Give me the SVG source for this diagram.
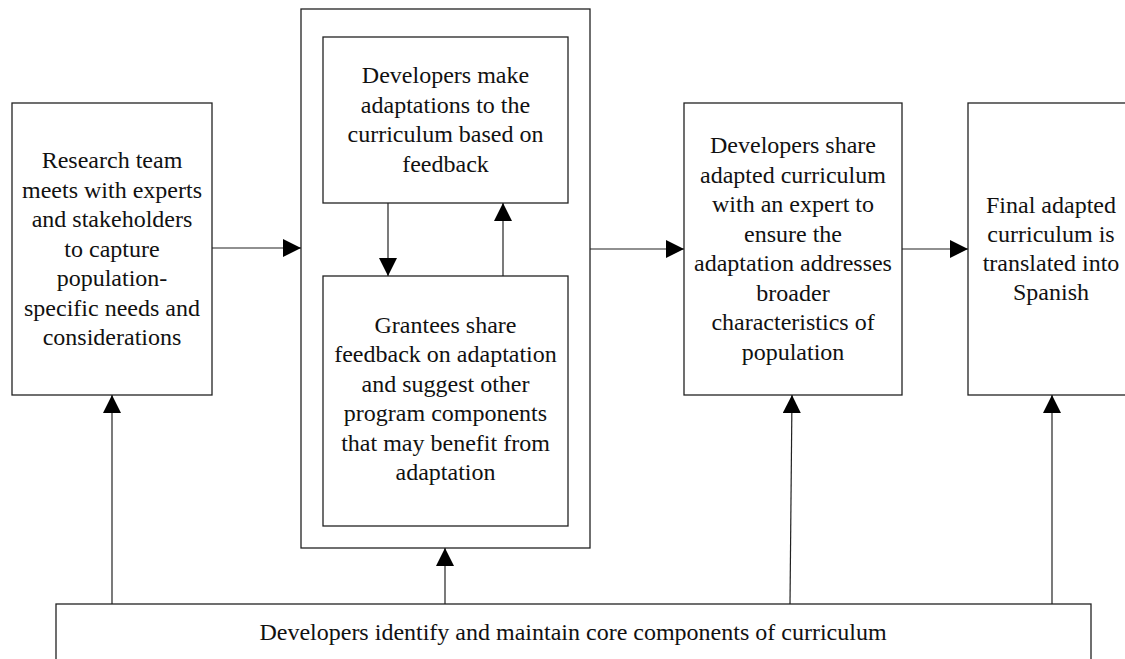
<svg xmlns="http://www.w3.org/2000/svg" width="1125" height="659" viewBox="0 0 1125 659">
<style>
.box{fill:#fff;stroke:#222;stroke-width:1.3}
.ln{fill:none;stroke:#222;stroke-width:1.2}
.t{font-family:'Liberation Serif',serif;font-size:24px;fill:#111;text-anchor:middle}
</style>
<defs>
<marker id="ah" viewBox="0 0 18 18" refX="18" refY="9" markerWidth="18" markerHeight="18" markerUnits="userSpaceOnUse" orient="auto">
<path d="M0,0 L18,9 L0,18 Z" fill="#000"/>
</marker>
</defs>
<rect width="1125" height="659" fill="#fff"/>
<g id="n1" class="t" font-family="Liberation Serif, serif">
<rect class="box" x="12" y="103" width="200" height="292"/>
<text x="112" y="168">Research team</text>
<text x="112" y="197.5">meets with experts</text>
<text x="112" y="227">and stakeholders</text>
<text x="112" y="256.5">to capture</text>
<text x="112" y="286">population-</text>
<text x="112" y="315.5">specific needs and</text>
<text x="112" y="345">considerations</text>
</g>
<g id="n2">
<rect class="box" x="301" y="9" width="289" height="539"/>
</g>
<g id="n2a" class="t" font-family="Liberation Serif, serif">
<rect class="box" x="323" y="37" width="245" height="166"/>
<text x="445.5" y="83">Developers make</text>
<text x="445.5" y="112.7">adaptations to the</text>
<text x="445.5" y="142.3">curriculum based on</text>
<text x="445.5" y="172">feedback</text>
</g>
<g id="n2b" class="t" font-family="Liberation Serif, serif">
<rect class="box" x="323" y="276" width="245" height="250"/>
<text x="445.5" y="333">Grantees share</text>
<text x="445.5" y="362.4">feedback on adaptation</text>
<text x="445.5" y="391.8">and suggest other</text>
<text x="445.5" y="421.2">program components</text>
<text x="445.5" y="450.6">that may benefit from</text>
<text x="445.5" y="480">adaptation</text>
</g>
<g id="n3" class="t" font-family="Liberation Serif, serif">
<rect class="box" x="684" y="103" width="218" height="292"/>
<text x="793" y="153">Developers share</text>
<text x="793" y="182.6">adapted curriculum</text>
<text x="793" y="212.1">with an expert to</text>
<text x="793" y="241.7">ensure the</text>
<text x="793" y="271.3">adaptation addresses</text>
<text x="793" y="300.9">broader</text>
<text x="793" y="330.4">characteristics of</text>
<text x="793" y="360">population</text>
</g>
<g id="n4" class="t" font-family="Liberation Serif, serif">
<rect class="box" x="968" y="103" width="168" height="292"/>
<text x="1051" y="213">Final adapted</text>
<text x="1051" y="242">curriculum is</text>
<text x="1051" y="271">translated into</text>
<text x="1051" y="300">Spanish</text>
</g>
<g id="n5" class="t" font-family="Liberation Serif, serif">
<rect class="box" x="56" y="604" width="1035" height="70"/>
<text x="573" y="640">Developers identify and maintain core components of curriculum</text>
</g>
<g id="connectors">
<line class="ln" x1="212" y1="248" x2="301" y2="248" marker-end="url(#ah)"/>
<line class="ln" x1="590" y1="249" x2="684" y2="249" marker-end="url(#ah)"/>
<line class="ln" x1="902" y1="249" x2="968" y2="249" marker-end="url(#ah)"/>
<line class="ln" x1="388" y1="203" x2="388" y2="276" marker-end="url(#ah)"/>
<line class="ln" x1="503" y1="276" x2="503" y2="203" marker-end="url(#ah)"/>
<line class="ln" x1="112" y1="604" x2="112" y2="395" marker-end="url(#ah)"/>
<line class="ln" x1="445" y1="604" x2="445" y2="548" marker-end="url(#ah)"/>
<line class="ln" x1="790" y1="604" x2="792" y2="395" marker-end="url(#ah)"/>
<line class="ln" x1="1052" y1="604" x2="1052" y2="395" marker-end="url(#ah)"/>
</g>
</svg>
